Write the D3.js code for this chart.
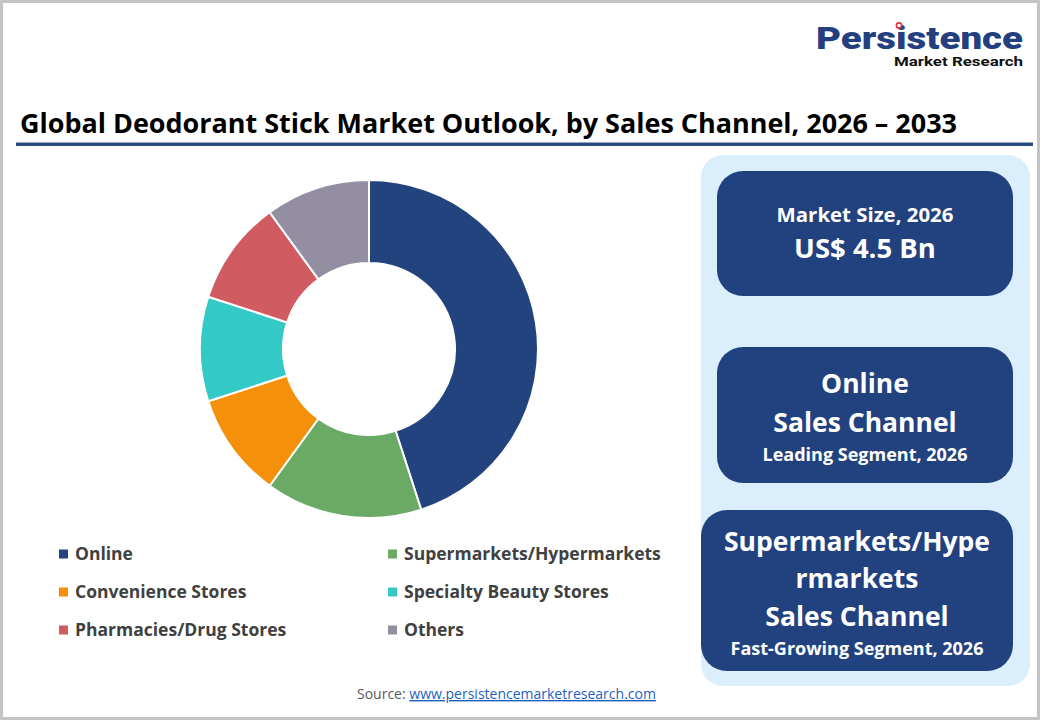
<!DOCTYPE html>
<html>
<head>
<meta charset="utf-8">
<script src="https://cdn.jsdelivr.net/npm/d3@7"></script>
<style>
  body { margin: 0; background: #fff; }
  svg { display: block; font-family: "Open Sans", "Noto Sans", sans-serif; }
</style>
</head>
<body>
<svg id="chart" width="1040" height="720"></svg>
<script>
// data
const categories = ["Online", "Supermarkets/Hypermarkets", "Convenience Stores",
  "Specialty Beauty Stores", "Pharmacies/Drug Stores", "Others"];
const shares = [45, 15, 10, 10, 10, 10];
const colors = ["#23437f", "#6aaa64", "#f5900a", "#33c9c6", "#d05c62", "#948ea3"];

const title = "Global Deodorant Stick Market Outlook, by Sales Channel, 2026 \u2013 2033";
const sizeLines = ["Market Size, 2026", "US$ 4.5 Bn"];
const leadLines = ["Online", "Sales Channel", "Leading Segment, 2026"];
const fastLines = ["Supermarkets/Hype", "rmarkets", "Sales Channel", "Fast-Growing Segment, 2026"];

const svg = d3.select("#chart");

// frame
svg.append("rect")
  .attr("x", 1.5).attr("y", 1.5).attr("width", 1037).attr("height", 717)
  .attr("fill", "#fff").attr("stroke", "#c4c4c4").attr("stroke-width", 3);

// logo
svg.append("text")
  .attr("x", 816).attr("y", 49)
  .attr("textLength", 207).attr("lengthAdjust", "spacingAndGlyphs")
  .attr("font-family", "Roboto, 'Liberation Sans', sans-serif")
  .attr("font-weight", 900).attr("font-size", 31)
  .attr("fill", "#233f7f").text("Persistence");
svg.append("circle")
  .attr("cx", 899).attr("cy", 25.5).attr("r", 2.6)
  .attr("fill", "#fff").attr("stroke", "#d9343a").attr("stroke-width", 1.6);
svg.append("text")
  .attr("x", 894).attr("y", 66)
  .attr("textLength", 129).attr("lengthAdjust", "spacingAndGlyphs")
  .attr("font-family", "Roboto, 'Liberation Sans', sans-serif")
  .attr("font-weight", 700).attr("font-size", 13.5)
  .attr("fill", "#111").text("Market Research");

// title
svg.append("text")
  .attr("x", 20).attr("y", 133)
  .attr("textLength", 937).attr("lengthAdjust", "spacingAndGlyphs")
  .attr("font-weight", 700).attr("font-size", 26)
  .attr("fill", "#000").text(title);
svg.append("rect")
  .attr("x", 16).attr("y", 142.5).attr("width", 1017).attr("height", 3.5)
  .attr("fill", "#2a4a7f");

// donut
const cx = 369, cy = 349;
const pie = d3.pie().sort(null).value(d => d)(shares);
const arc = d3.arc().innerRadius(86).outerRadius(169);
const color = d3.scaleOrdinal().domain(categories).range(colors);

svg.append("g")
  .attr("transform", `translate(${cx},${cy})`)
  .selectAll("path")
  .data(pie)
  .join("path")
  .attr("d", arc)
  .attr("fill", (d, i) => color(categories[i]))
  .attr("stroke", "#fff")
  .attr("stroke-width", 2);

// legend
const colX = d3.scalePoint().domain([0, 1]).range([59, 388]);
const rowY = d3.scalePoint().domain([0, 1, 2]).range([554, 630]);

const legend = svg.append("g")
  .selectAll("g")
  .data(categories)
  .join("g")
  .attr("transform", (d, i) => `translate(${colX(i % 2)},${rowY(Math.floor(i / 2))})`);

legend.append("rect")
  .attr("x", 0).attr("y", -4.5).attr("width", 9).attr("height", 9)
  .attr("fill", d => color(d));
legend.append("text")
  .attr("x", 16).attr("y", 0).attr("dy", "0.35em")
  .attr("font-weight", 700).attr("font-size", 17.5)
  .attr("fill", "#404040")
  .text(d => d);

// source
const src = svg.append("text")
  .attr("x", 357).attr("y", 699)
  .attr("font-size", 14).attr("fill", "#595959");
src.append("tspan").text("Source: ");
src.append("tspan").attr("fill", "#1f5fbf").attr("text-decoration", "underline")
  .text("www.persistencemarketresearch.com");

// right panel
svg.append("rect")
  .attr("x", 701).attr("y", 155).attr("width", 329).attr("height", 531)
  .attr("rx", 22).attr("fill", "#dbeefb");

function card(x, y, w, h, lines) {
  svg.append("rect")
    .attr("x", x).attr("y", y).attr("width", w).attr("height", h)
    .attr("rx", 26).attr("fill", "#22427f");
  lines.forEach(l => {
    svg.append("text")
      .attr("x", x + w / 2).attr("y", l.y)
      .attr("text-anchor", "middle")
      .attr("font-weight", 700).attr("font-size", l.size)
      .attr("fill", "#fff").text(l.t);
  });
}

card(717, 171, 296, 125, [
  { t: sizeLines[0], y: 222, size: 20.4 },
  { t: sizeLines[1], y: 258, size: 27.5 }
]);
card(717, 347, 296, 136, [
  { t: leadLines[0], y: 393, size: 26.5 },
  { t: leadLines[1], y: 432, size: 26.5 },
  { t: leadLines[2], y: 461, size: 18 }
]);
card(701, 510, 312, 161, [
  { t: fastLines[0], y: 551, size: 26.5 },
  { t: fastLines[1], y: 588, size: 26.5 },
  { t: fastLines[2], y: 626, size: 26.5 },
  { t: fastLines[3], y: 655, size: 18 }
]);
</script>
</body>
</html>
